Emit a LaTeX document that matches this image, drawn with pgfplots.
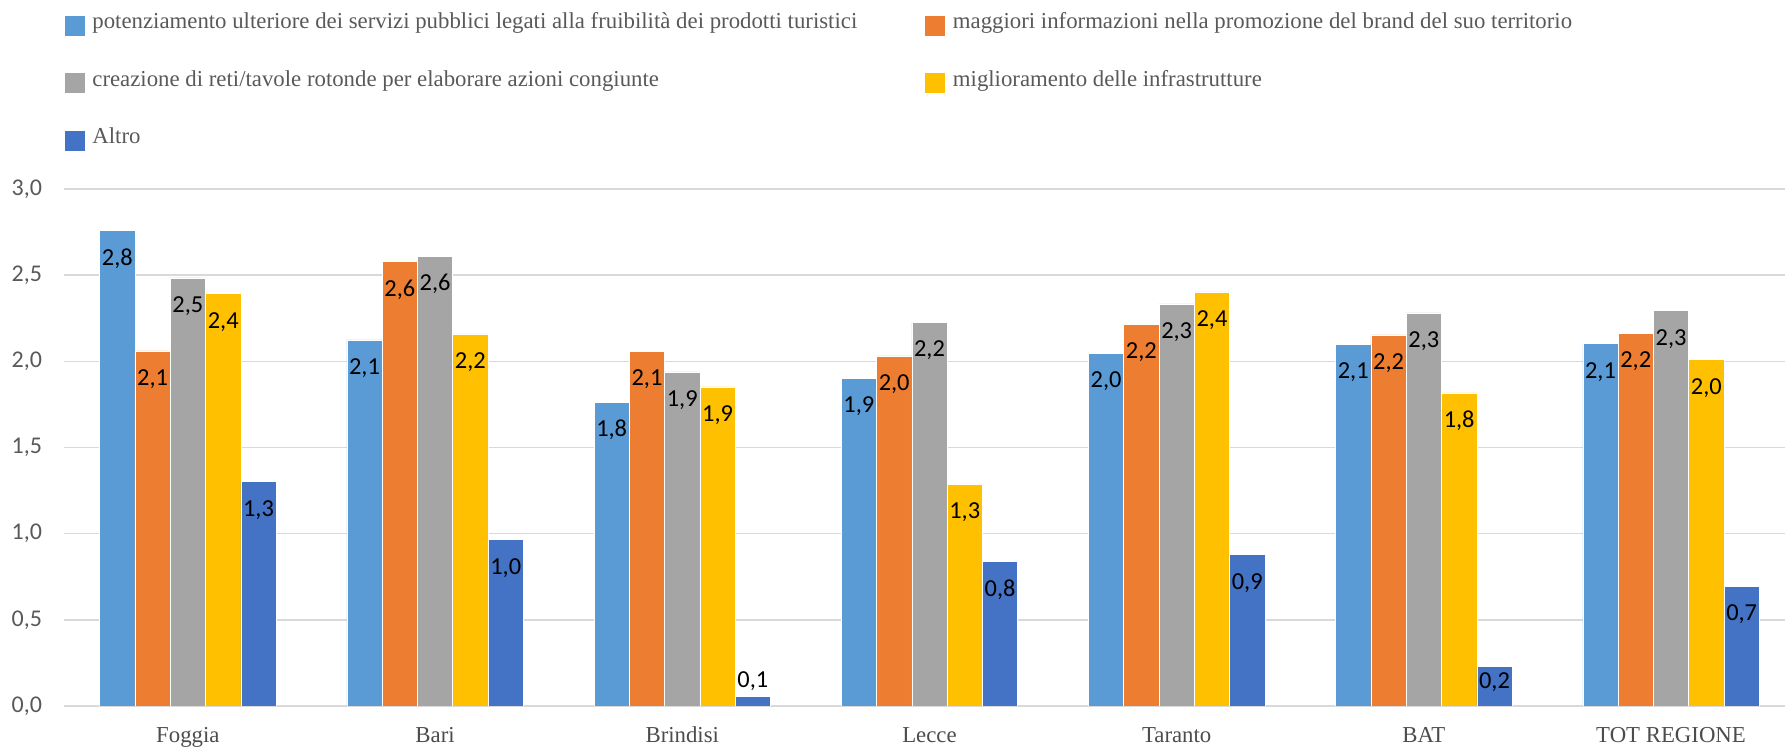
\documentclass[border=0pt]{standalone}
\usepackage{fontspec}
\setmainfont{Liberation Serif}
\newfontfamily\carlito{Carlito}
\usepackage{pgfplots}
\pgfplotsset{compat=1.18}
\definecolor{cA}{HTML}{5B9BD5}
\definecolor{cB}{HTML}{ED7D31}
\definecolor{cC}{HTML}{A5A5A5}
\definecolor{cD}{HTML}{FFC000}
\definecolor{cE}{HTML}{4472C4}
\definecolor{txt}{HTML}{595959}
\definecolor{gridc}{HTML}{D9D9D9}
\begin{document}
\begin{tikzpicture}
\begin{axis}[
  scale only axis, width=860.35pt, height=258.5pt,
  xmin=-0.5, xmax=6.461, ymin=0, ymax=3,
  ybar=0pt, bar width=17.65pt,
  axis line style={draw=none},
  major tick length=0pt,
  ymajorgrids, grid style={draw=gridc, line width=0.8pt},
  ytick={0,0.5,1,1.5,2,2.5,3},
  xtick={0,1,2,3,4,5,6},
  xticklabels={Foggia,Bari,Brindisi,Lecce,Taranto,BAT,TOT REGIONE},
  /pgf/number format/assume math mode=true,
  yticklabel style={font=\carlito\fontsize{12}{14}\selectfont, text=txt, anchor=east, inner sep=0pt, xshift=-11pt,
     /pgf/number format/fixed, /pgf/number format/fixed zerofill, /pgf/number format/precision=1, /pgf/number format/use comma},
  xticklabel style={font=\fontsize{11.4}{13}\selectfont, text=txt!85!black, anchor=base, yshift=-18.5pt, inner sep=0pt},
  visualization depends on={rawy \as \rawy},
  nodes near coords={\pgfmathprintnumber[fixed,fixed zerofill,precision=1,use comma]{\pgfplotspointmeta}},
  nodes near coords align={center},
  nodes near coords style={font=\carlito\fontsize{12.2}{14}\selectfont, text=black, anchor=center, inner sep=0pt,
     yshift={-14pt+(\rawy<0.3)*6.5pt+(\rawy<0.1)*15.2pt}},
  legend columns=2,
  legend cell align=left,
  legend image code/.code={\fill[#1,draw=none] (0pt,-5pt) rectangle (10pt,5pt);},
  legend style={draw=none, fill=none, at={(0,1)}, anchor=south west, yshift=17.5pt, inner sep=0pt,
     font=\fontsize{11.4}{13}\selectfont, text=txt, row sep=15.75pt, column sep=3.85pt,
     /tikz/every even column/.append style={column sep=34pt},
     nodes={inner sep=0pt, text height=8pt, text depth=5pt}},
]
\addplot[fill=cA, draw=white, line width=0.3pt] coordinates {(0,2.758) (1,2.124) (2,1.763) (3,1.902) (4,2.046) (5,2.100) (6,2.102)};
\addplot[fill=cB, draw=white, line width=0.3pt] coordinates {(0,2.061) (1,2.580) (2,2.059) (3,2.031) (4,2.214) (5,2.153) (6,2.161)};
\addplot[fill=cC, draw=white, line width=0.3pt] coordinates {(0,2.484) (1,2.610) (2,1.939) (3,2.227) (4,2.333) (5,2.281) (6,2.294)};
\addplot[fill=cD, draw=white, line width=0.3pt] coordinates {(0,2.392) (1,2.159) (2,1.852) (3,1.288) (4,2.403) (5,1.817) (6,2.009)};
\addplot[fill=cE, draw=white, line width=0.3pt] coordinates {(0,1.301) (1,0.965) (2,0.054) (3,0.837) (4,0.878) (5,0.228) (6,0.695)};
\legend{potenziamento ulteriore dei servizi pubblici legati alla fruibilità dei prodotti turistici,
maggiori informazioni nella promozione del brand del suo territorio,
creazione di reti/tavole rotonde per elaborare azioni congiunte,
miglioramento delle infrastrutture,
Altro}
\coordinate (ll) at (rel axis cs:0,0);
\coordinate (ur) at (rel axis cs:1,1);
\end{axis}
\pgfresetboundingbox
\path[use as bounding box] ([xshift=-32.15pt,yshift=-21.5pt]ll) rectangle ([yshift=94.5pt]ur);
\end{tikzpicture}
\end{document}
